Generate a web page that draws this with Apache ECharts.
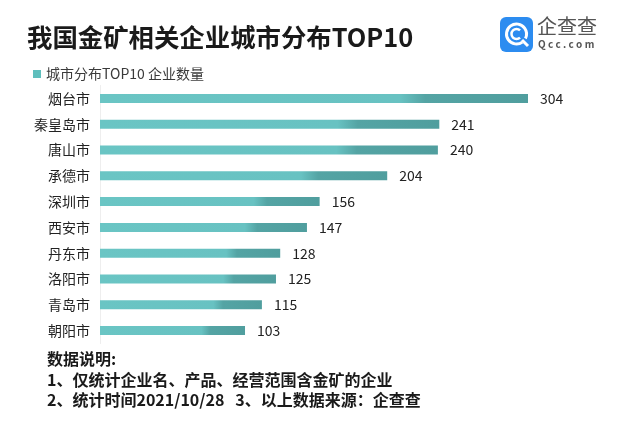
<!DOCTYPE html>
<html>
<head>
<meta charset="utf-8">
<script src="https://cdn.jsdelivr.net/npm/echarts@6/dist/echarts.min.js"></script>
<style>
html,body{margin:0;padding:0;background:#fff;}
#main{width:640px;height:427px;}
</style>
</head>
<body>
<div id="main"></div>
<script>
var cities = ['烟台市','秦皇岛市','唐山市','承德市','深圳市','西安市','丹东市','洛阳市','青岛市','朝阳市'];
var counts = [304, 241, 240, 204, 156, 147, 128, 125, 115, 103];
var seriesName = '城市分布TOP10 企业数量';
var titleText = '我国金矿相关企业城市分布TOP10';
var notes = ['数据说明:', '1、仅统计企业名、产品、经营范围含金矿的企业', '2、统计时间2021/10/28   3、以上数据来源：企查查'];

var FONT = '"Noto Sans CJK SC", "Noto Sans", sans-serif';
var chart = echarts.init(document.getElementById('main'), null, {renderer: 'canvas'});

var barGrad = new echarts.graphic.LinearGradient(0, 0, 1, 0, [
  {offset: 0, color: '#6ac5c4'},
  {offset: 0.70, color: '#68c2c2'},
  {offset: 0.76, color: '#54a4a4'},
  {offset: 1, color: '#509e9e'}
]);

var option = {
  backgroundColor: '#ffffff',
  animation: false,
  title: {
    text: titleText,
    left: 22, top: 20,
    textStyle: {fontFamily: FONT, fontSize: 25.4, fontWeight: 'bold', color: '#1a1a1a'}
  },
  legend: {
    left: 28, top: 62,
    icon: 'rect', itemWidth: 8, itemHeight: 8, itemGap: 6,
    data: [{name: seriesName, itemStyle: {color: '#5fbfbd'}}],
    textStyle: {fontFamily: FONT, fontSize: 14, color: '#3a3a3a'}
  },
  grid: {left: 100, right: 112, top: 85.5, bottom: 83.5, containLabel: false},
  xAxis: {
    type: 'value', min: 0, max: 304,
    show: false
  },
  yAxis: {
    type: 'category', inverse: true, data: cities,
    axisLine: {show: true, lineStyle: {color: '#eeeeee', width: 1}},
    axisTick: {show: false},
    axisLabel: {fontFamily: FONT, fontSize: 14, color: '#222', margin: 10}
  },
  series: [{
    name: seriesName,
    type: 'bar',
    data: counts,
    barWidth: 9,
    itemStyle: {color: barGrad},
    label: {
      show: true, position: 'right', distance: 12,
      fontFamily: FONT, fontSize: 14, color: '#222'
    }
  }],
  graphic: [
    {type: 'rect', shape: {x: 500, y: 17, width: 33, height: 35, r: 6}, style: {fill: '#2c8cf0'}},
    {type: 'arc', shape: {cx: 516.5, cy: 34, r: 10, startAngle: Math.PI * 0.30, endAngle: Math.PI * 2.15}, style: {stroke: '#ffffff', lineWidth: 3, fill: null}},
    {type: 'arc', shape: {cx: 516.5, cy: 34, r: 5, startAngle: Math.PI * 0.25, endAngle: Math.PI * 1.75}, style: {stroke: '#ffffff', lineWidth: 2.5, fill: null}},
    {type: 'line', shape: {x1: 522, y1: 40, x2: 528, y2: 46}, style: {stroke: '#ffffff', lineWidth: 3}},
    {type: 'text', left: 537, top: 16, style: {text: '企查查', font: '20px ' + FONT, fill: '#555555'}},
    {type: 'text', left: 538, top: 39, style: {text: 'Q c c . c o m', font: 'bold 10px ' + FONT, fill: '#555555'}},
    {type: 'text', left: 47, top: 351, style: {text: notes[0], font: 'bold 16px ' + FONT, fill: '#1a1a1a'}},
    {type: 'text', left: 47, top: 371.5, style: {text: notes[1], font: 'bold 16px ' + FONT, fill: '#1a1a1a'}},
    {type: 'text', left: 47, top: 392, style: {text: notes[2], font: 'bold 16px ' + FONT, fill: '#1a1a1a'}}
  ]
};
chart.setOption(option);
</script>
</body>
</html>
